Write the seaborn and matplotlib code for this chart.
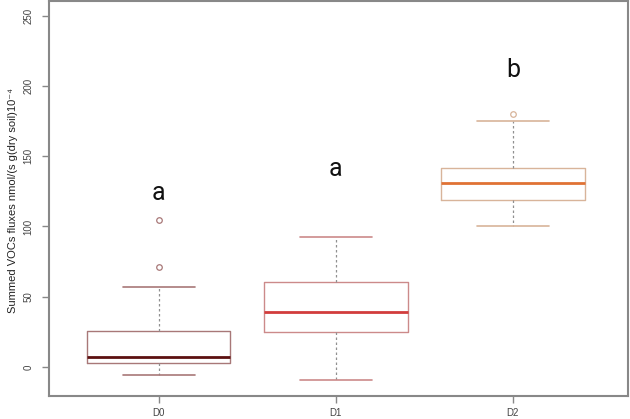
import numpy as np
import pandas as pd
import matplotlib
matplotlib.use('Agg')
import matplotlib.pyplot as plt
import seaborn as sns

groups = ['D0', 'D1', 'D2']
d0_values = [-5.7, -1.0, 1.5, 2.8, 4.0, 5.5, 6.9, 12.0, 19.0, 25.8, 56.6, 71.0, 104.9]
d1_values = [-9.2, 10.0, 20.0, 25.1, 30.0, 35.0, 38.8, 45.0, 52.0, 60.2, 70.0, 80.0, 92.3]
d2_values = [100.4, 108.0, 114.0, 119.1, 124.0, 128.0, 130.9, 134.0, 138.0, 141.6, 158.0, 174.7, 179.7]
letters = ['a', 'a', 'b']
letter_y = [124, 141, 211]

edge_colors = ['#a87878', '#cc8a8a', '#d8b49a']
median_colors = ['#5c1010', '#d23c3c', '#e07234']

df = pd.DataFrame({
    'group': np.repeat(groups, [len(d0_values), len(d1_values), len(d2_values)]),
    'flux': d0_values + d1_values + d2_values,
})

sns.set_style('white')
plt.rcParams['font.family'] = ['Liberation Sans', 'DejaVu Sans']

fig = plt.figure(figsize=(6.3, 4.19), dpi=100)
ax = fig.add_axes([0.0778, 0.0556, 0.919, 0.942])

sns.boxplot(data=df, x='group', y='flux', hue='group', palette=edge_colors,
            fill=False, dodge=False, width=0.81, legend=False, ax=ax,
            linewidth=1.0, whis=1.5,
            flierprops=dict(marker='o', markersize=4, markerfacecolor='none', markeredgewidth=0.9))

for i, cont in enumerate(ax.containers):
    for b in cont.boxes:
        b.set_color(edge_colors[i])
        b.set_linewidth(1.0)
    for m in cont.medians:
        m.set_color(median_colors[i])
        m.set_linewidth(2.0)
    for w in cont.whiskers:
        w.set_color('#909090')
        w.set_linestyle((0, (2, 2)))
        w.set_linewidth(0.9)
    for c in cont.caps:
        c.set_color(edge_colors[i])
        c.set_linewidth(1.2)
    for f in cont.fliers:
        f.set_markeredgecolor(edge_colors[i])

for i, (lt, ly) in enumerate(zip(letters, letter_y)):
    ax.text(i, ly, lt, ha='center', va='center', fontsize=18,
            family=['Liberation Sans Narrow', 'Roboto', 'DejaVu Sans'], color='#111111')

ax.set_xlim(-0.62, 2.65)
ax.set_ylim(-20.4, 260.4)
ax.set_yticks([0, 50, 100, 150, 200, 250])
ax.set_xlabel('')
ax.set_ylabel('Summed VOCs fluxes nmol/(s g(dry soil)10⁻⁴', fontsize=8, color='#222222')
ax.yaxis.set_label_coords(-0.054, 0.495)
ax.tick_params(axis='both', direction='out', length=5, width=1, color='#888888',
               labelsize=7, labelcolor='#444444', left=True, bottom=True)
ax.tick_params(axis='x', pad=4)
ax.tick_params(axis='y', pad=6)
for lab in ax.get_yticklabels():
    lab.set_rotation(90)
    lab.set_va('center')
for s in ax.spines.values():
    s.set_color('#888888')
    s.set_linewidth(1.5)

fig.savefig('out.png', dpi=100)
